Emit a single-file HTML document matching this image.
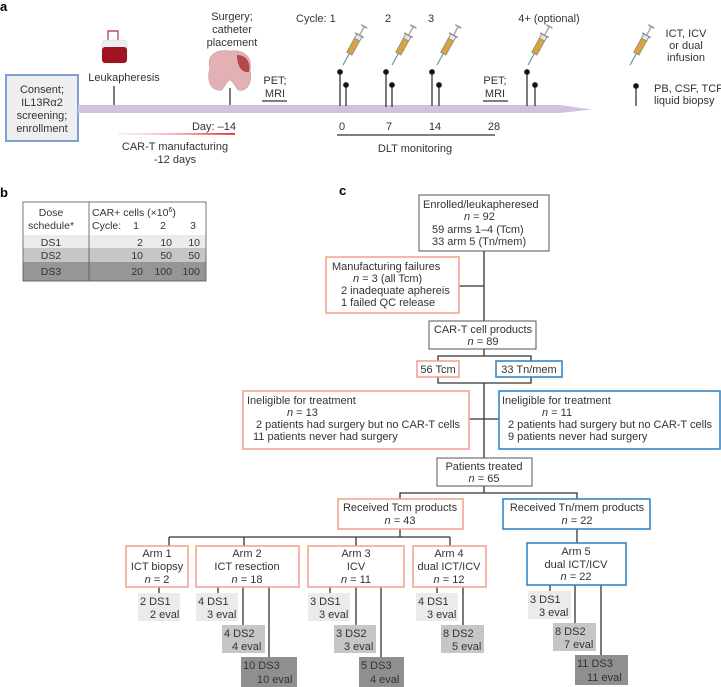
<!DOCTYPE html>
<html><head><meta charset="utf-8"><style>
html,body{margin:0;padding:0;background:#fff}
svg{display:block}
text{font-family:"Liberation Sans",sans-serif;fill:#333}
</style></head><body>
<svg width="721" height="687" viewBox="0 0 721 687" xmlns="http://www.w3.org/2000/svg">
<defs>
<linearGradient id="rg" x1="0" x2="1"><stop offset="0" stop-color="#f6c9c9" stop-opacity="0.3"/><stop offset="1" stop-color="#e8262a"/></linearGradient>
<g id="syr">
<line x1="0" y1="0" x2="0" y2="-13" stroke="#4a8a8a" stroke-width="1"/>
<rect x="-3" y="-34" width="6" height="21" fill="#d9a43c" stroke="#8a8a8a" stroke-width="0.8"/>
<rect x="-3" y="-34" width="6" height="5" fill="#e6e6e6" stroke="#8a8a8a" stroke-width="0.8"/>
<line x1="-5" y1="-34" x2="5" y2="-34" stroke="#888" stroke-width="1.3"/>
<line x1="0" y1="-34" x2="0" y2="-44" stroke="#aaa" stroke-width="1.5"/>
<line x1="-3.5" y1="-44" x2="3.5" y2="-44" stroke="#999" stroke-width="1.5"/>
</g>
</defs>

<!-- a -->
<text x="0" y="11" font-weight="bold" font-size="13" style="fill:#000">a</text>
<rect x="6" y="75" width="72" height="66" fill="#efefef" stroke="#7d9fd6" stroke-width="2"/>
<g font-size="11" text-anchor="middle">
<text x="42" y="93">Consent;</text><text x="42" y="106">IL13Rα2</text><text x="42" y="119">screening;</text><text x="42" y="132">enrollment</text>
</g>
<polygon points="78,105 560,105 592,109.5 560,113 78,113" fill="#cfc3db"/>
<!-- blood bag -->
<path d="M108,44 L108,31 L118,31 L118,44" fill="none" stroke="#b02a2a" stroke-width="1.2"/>
<rect x="102" y="40" width="25" height="23" rx="4" fill="#e9eef2" stroke="#ccd" stroke-width="0.5"/>
<rect x="102" y="47" width="25" height="16" rx="3" fill="#9e1421"/>
<text x="124" y="81" font-size="11" text-anchor="middle">Leukapheresis</text>
<line x1="114" y1="86" x2="114" y2="105" stroke="#222" stroke-width="1.2"/>
<!-- brain -->
<path d="M210,68 C206,54 218,49 230,51 C242,49 253,56 250,70 C253,84 246,92 238,90 C234,84 232,80 230,80 C228,80 226,84 222,90 C212,92 206,82 210,68 Z" fill="#e2b1b5" stroke="#c99" stroke-width="0.6"/>
<path d="M237,55 C246,55 251,62 249,72 C243,73 237,68 237,55 Z" fill="#b5474f"/>
<g font-size="11" text-anchor="middle"><text x="232" y="20">Surgery;</text><text x="232" y="33">catheter</text><text x="232" y="46">placement</text></g>
<line x1="230" y1="88" x2="230" y2="105" stroke="#222" stroke-width="1.2"/>
<g font-size="11" text-anchor="middle"><text x="275" y="84">PET;</text><text x="275" y="97">MRI</text><text x="495" y="84">PET;</text><text x="495" y="97">MRI</text></g>
<line x1="262" y1="101" x2="287" y2="101" stroke="#333" stroke-width="1.2"/>
<line x1="483" y1="101" x2="508" y2="101" stroke="#333" stroke-width="1.2"/>
<!-- pins -->
<g stroke="#222" stroke-width="1.2" fill="#111">
<line x1="340" y1="72" x2="340" y2="106"/><circle cx="340" cy="72" r="2.3"/>
<line x1="346" y1="85" x2="346" y2="106"/><circle cx="346" cy="85" r="2.3"/>
<line x1="386" y1="72" x2="386" y2="107"/><circle cx="386" cy="72" r="2.3"/>
<line x1="392" y1="85" x2="392" y2="107"/><circle cx="392" cy="85" r="2.3"/>
<line x1="432" y1="72" x2="432" y2="106"/><circle cx="432" cy="72" r="2.3"/>
<line x1="439" y1="85" x2="439" y2="106"/><circle cx="439" cy="85" r="2.3"/>
<line x1="527" y1="72" x2="527" y2="106"/><circle cx="527" cy="72" r="2.3"/>
<line x1="535" y1="85" x2="535" y2="106"/><circle cx="535" cy="85" r="2.3"/>
<line x1="636" y1="86" x2="636" y2="106"/><circle cx="636" cy="86" r="2.3"/>
</g>
<use href="#syr" transform="translate(343,65) rotate(29)"/>
<use href="#syr" transform="translate(392,65) rotate(29)"/>
<use href="#syr" transform="translate(437,65) rotate(29)"/>
<use href="#syr" transform="translate(528,65) rotate(29)"/>
<use href="#syr" transform="translate(630,65) rotate(29)"/>
<g font-size="11">
<text x="296" y="22">Cycle: 1</text>
<text x="388" y="22" text-anchor="middle">2</text>
<text x="431" y="22" text-anchor="middle">3</text>
<text x="549" y="22" text-anchor="middle">4+ (optional)</text>
<g text-anchor="middle"><text x="686" y="37">ICT, ICV</text><text x="686" y="49">or dual</text><text x="686" y="61">infusion</text></g>
<text x="654" y="92">PB, CSF, TCF</text><text x="654" y="104">liquid biopsy</text>
<text x="236" y="130" text-anchor="end">Day: –14</text>
<g text-anchor="middle"><text x="342" y="130">0</text><text x="389" y="130">7</text><text x="435" y="130">14</text><text x="494" y="130">28</text>
<text x="175" y="150">CAR-T manufacturing</text><text x="175" y="163">-12 days</text>
<text x="415" y="152">DLT monitoring</text></g>
</g>
<rect x="118" y="133" width="117" height="1.8" fill="url(#rg)"/>
<line x1="337" y1="135" x2="495" y2="135" stroke="#333" stroke-width="1.3"/>

<!-- b -->
<text x="0" y="197" font-weight="bold" font-size="13" style="fill:#000">b</text>
<rect x="23" y="202" width="183" height="33" fill="#fff"/>
<rect x="23" y="235" width="183" height="13" fill="#ebebeb"/>
<rect x="23" y="248" width="183" height="14" fill="#c6c6c6"/>
<rect x="23" y="262" width="183" height="19" fill="#969696"/>
<rect x="23" y="202" width="183" height="79" fill="none" stroke="#555" stroke-width="0.8"/>
<line x1="89" y1="202" x2="89" y2="281" stroke="#555" stroke-width="0.8"/>
<g font-size="10.5">
<g text-anchor="middle"><text x="51" y="216">Dose</text><text x="51" y="229">schedule*</text><text x="51" y="246">DS1</text><text x="51" y="259">DS2</text><text x="51" y="275">DS3</text></g>
<text x="92" y="216">CAR+ cells (×10<tspan font-size="7" dy="-4">6</tspan><tspan dy="4">)</tspan></text>
<text x="92" y="229">Cycle:</text>
<g text-anchor="end">
<text x="139" y="229">1</text><text x="166" y="229">2</text><text x="196" y="229">3</text>
<text x="143" y="246">2</text><text x="172" y="246">10</text><text x="200" y="246">10</text>
<text x="143" y="259">10</text><text x="172" y="259">50</text><text x="200" y="259">50</text>
<text x="143" y="275">20</text><text x="172" y="275">100</text><text x="200" y="275">100</text>
</g></g>

<!-- c -->
<text x="339" y="195" font-weight="bold" font-size="13" style="fill:#000">c</text>
<g fill="none" stroke="#333" stroke-width="1.3">
<line x1="484" y1="251" x2="484" y2="323"/>
<line x1="459" y1="286" x2="484" y2="286"/>
<line x1="484" y1="349" x2="484" y2="356"/>
<polyline points="438,361 438,356 531,356 531,361"/>
<polyline points="438,377 438,383 531,383 531,377"/>
<line x1="484" y1="383" x2="484" y2="458"/>
<line x1="469" y1="419" x2="499" y2="419"/>
<line x1="484" y1="486" x2="484" y2="493"/>
<polyline points="400,499 400,493 577,493 577,499"/>
<line x1="400" y1="529" x2="400" y2="537"/>
<line x1="169" y1="537" x2="450" y2="537"/>
<line x1="169" y1="537" x2="169" y2="546"/>
<line x1="244" y1="537" x2="244" y2="546"/>
<line x1="356" y1="537" x2="356" y2="546"/>
<line x1="450" y1="537" x2="450" y2="546"/>
<line x1="577" y1="529" x2="577" y2="543"/>
<line x1="159" y1="587" x2="159" y2="593"/>
<line x1="218" y1="587" x2="218" y2="593"/>
<line x1="243" y1="587" x2="243" y2="625"/>
<line x1="269" y1="587" x2="269" y2="657"/>
<line x1="330" y1="587" x2="330" y2="593"/>
<line x1="356" y1="587" x2="356" y2="625"/>
<line x1="381" y1="587" x2="381" y2="657"/>
<line x1="437" y1="587" x2="437" y2="593"/>
<line x1="463" y1="587" x2="463" y2="625"/>
<line x1="550" y1="585" x2="550" y2="591"/>
<line x1="575" y1="585" x2="575" y2="623"/>
<line x1="601" y1="585" x2="601" y2="655"/>
</g>
<g fill="#fff" stroke-width="1.5">
<rect x="419" y="195" width="130" height="56" stroke="#555" stroke-width="1"/>
<rect x="326" y="257" width="133" height="56" stroke="#f2a08a"/>
<rect x="429" y="321" width="107" height="28" stroke="#555" stroke-width="1"/>
<rect x="417" y="361" width="42" height="16" stroke="#f2a08a"/>
<rect x="496" y="361" width="66" height="16" stroke="#2a7fc1"/>
<rect x="243" y="391" width="226" height="58" stroke="#f2a08a"/>
<rect x="499" y="391" width="221" height="58" stroke="#2a7fc1"/>
<rect x="437" y="458" width="95" height="28" stroke="#555" stroke-width="1"/>
<rect x="338" y="499" width="125" height="30" stroke="#f2a08a"/>
<rect x="503" y="499" width="147" height="30" stroke="#2a7fc1"/>
<rect x="126" y="546" width="62" height="41" stroke="#f2a08a"/>
<rect x="196" y="546" width="103" height="41" stroke="#f2a08a"/>
<rect x="308" y="546" width="96" height="41" stroke="#f2a08a"/>
<rect x="413" y="546" width="73" height="41" stroke="#f2a08a"/>
<rect x="527" y="543" width="99" height="42" stroke="#2a7fc1"/>
</g>
<g stroke="none">
<rect x="138" y="593" width="42" height="28" fill="#ebebeb"/>
<rect x="196" y="593" width="42" height="28" fill="#ebebeb"/>
<rect x="222" y="625" width="43" height="28" fill="#c6c6c6"/>
<rect x="241" y="657" width="56" height="30" fill="#8f8f8f"/>
<rect x="308" y="593" width="42" height="28" fill="#ebebeb"/>
<rect x="334" y="625" width="42" height="28" fill="#c6c6c6"/>
<rect x="359" y="657" width="45" height="30" fill="#8f8f8f"/>
<rect x="416" y="593" width="42" height="28" fill="#ebebeb"/>
<rect x="441" y="625" width="43" height="28" fill="#c6c6c6"/>
<rect x="528" y="591" width="43" height="28" fill="#ebebeb"/>
<rect x="553" y="623" width="43" height="28" fill="#c6c6c6"/>
<rect x="575" y="655" width="53" height="30" fill="#8f8f8f"/>
</g>
<g font-size="11">
<text x="423" y="208">Enrolled/leukapheresed</text>
<text x="464" y="220"><tspan font-style="italic">n</tspan> = 92</text>
<text x="432" y="233">59 arms 1–4 (Tcm)</text>
<text x="432" y="245">33 arm 5 (Tn/mem)</text>
<text x="332" y="270">Manufacturing failures</text>
<text x="353" y="282"><tspan font-style="italic">n</tspan> = 3 (all Tcm)</text>
<text x="341" y="294">2 inadequate aphereis</text>
<text x="341" y="306">1 failed QC release</text>
<g text-anchor="middle">
<text x="483" y="333">CAR-T cell products</text>
<text x="483" y="345"><tspan font-style="italic">n</tspan> = 89</text>
<text x="438" y="373">56 Tcm</text>
<text x="529" y="373">33 Tn/mem</text>
<text x="484" y="470">Patients treated</text>
<text x="484" y="482"><tspan font-style="italic">n</tspan> = 65</text>
<text x="400" y="511">Received Tcm products</text>
<text x="400" y="524"><tspan font-style="italic">n</tspan> = 43</text>
<text x="577" y="511">Received Tn/mem products</text>
<text x="577" y="524"><tspan font-style="italic">n</tspan> = 22</text>
<text x="157" y="557">Arm 1</text><text x="157" y="570">ICT biopsy</text><text x="157" y="583"><tspan font-style="italic">n</tspan> = 2</text>
<text x="247" y="557">Arm 2</text><text x="247" y="570">ICT resection</text><text x="247" y="583"><tspan font-style="italic">n</tspan> = 18</text>
<text x="356" y="557">Arm 3</text><text x="356" y="570">ICV</text><text x="356" y="583"><tspan font-style="italic">n</tspan> = 11</text>
<text x="449" y="557">Arm 4</text><text x="449" y="570">dual ICT/ICV</text><text x="449" y="583"><tspan font-style="italic">n</tspan> = 12</text>
<text x="576" y="555">Arm 5</text><text x="576" y="568">dual ICT/ICV</text><text x="576" y="580"><tspan font-style="italic">n</tspan> = 22</text>
</g>
<text x="247" y="404">Ineligible for treatment</text>
<text x="287" y="416"><tspan font-style="italic">n</tspan> = 13</text>
<text x="256" y="428">2 patients had surgery but no CAR-T cells</text>
<text x="253" y="440">11 patients never had surgery</text>
<text x="502" y="404">Ineligible for treatment</text>
<text x="542" y="416"><tspan font-style="italic">n</tspan> = 11</text>
<text x="508" y="428">2 patients had surgery but no CAR-T cells</text>
<text x="508" y="440">9 patients never had surgery</text>
<text x="140" y="605">2 DS1</text><text x="150" y="618">2 eval</text>
<text x="198" y="605">4 DS1</text><text x="207" y="618">3 eval</text>
<text x="224" y="637">4 DS2</text><text x="232" y="650">4 eval</text>
<text x="243" y="669">10 DS3</text><text x="257" y="683">10 eval</text>
<text x="310" y="605">3 DS1</text><text x="319" y="618">3 eval</text>
<text x="336" y="637">3 DS2</text><text x="344" y="650">3 eval</text>
<text x="361" y="669">5 DS3</text><text x="370" y="683">4 eval</text>
<text x="418" y="605">4 DS1</text><text x="427" y="618">3 eval</text>
<text x="443" y="637">8 DS2</text><text x="452" y="650">5 eval</text>
<text x="530" y="603">3 DS1</text><text x="539" y="616">3 eval</text>
<text x="555" y="635">8 DS2</text><text x="564" y="648">7 eval</text>
<text x="577" y="667">11 DS3</text><text x="587" y="681">11 eval</text>
</g>
</svg>
</body></html>
